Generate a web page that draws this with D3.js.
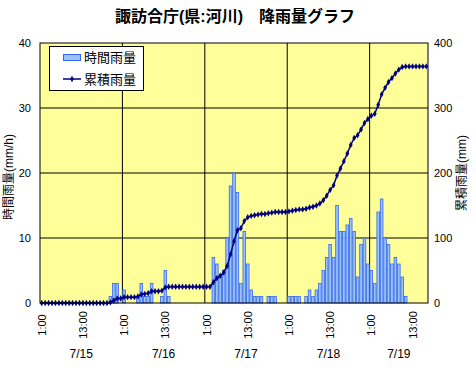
<!DOCTYPE html>
<html>
<head>
<meta charset="utf-8">
<script src="https://cdn.jsdelivr.net/npm/d3@7"></script>
<style>
  body { margin: 0; background: #fff; }
  text { font-family: "Liberation Sans", "Noto Sans CJK JP", sans-serif; fill: #000; }
</style>
</head>
<body>
<script>
// dates and how many hourly readings each day has (7/19 stops at 17:00)
var days = ['7/15', '7/16', '7/17', '7/18', '7/19'];
var dayHours = [24, 24, 24, 24, 17];
var hourTicks = ['1:00', '13:00'];
var leftTicks = [0, 10, 20, 30, 40];
var rightTicks = [0, 100, 200, 300, 400];

// hourly rainfall mm/h, from 7/15 1:00
var hourly = [
  0, 0, 0, 0, 0, 0, 0, 0, 0, 0, 0, 0, 0, 0, 0, 0, 0, 0, 0, 0,
  1, 3, 3, 0, 2, 0, 0, 0, 1, 3, 1, 1, 3, 0, 0, 1, 5, 1,
  0, 0, 0, 0, 0, 0, 0, 0, 0, 0, 0, 0,
  7, 6, 4, 5, 10, 18, 20, 17, 3, 11, 6, 2, 1, 1, 1, 0, 1, 1, 1, 0,
  0, 0, 1, 1, 1, 1, 0, 1, 2, 1, 2, 3, 5, 7, 9, 7, 15, 11, 11, 12,
  13, 11, 4, 9, 10, 6, 5, 3, 14, 16, 10, 9, 6, 7, 6, 4, 1,
  0, 0, 0, 0, 0, 0
];

buildPlot();

function buildPlot() {
  var cumulative = Array.from(d3.cumsum(hourly));

  var w = 476, h = 369;
  var pL = 40, pR = 428, pT = 43, pB = 303;

  // one category per hour
  var cats = [];
  days.forEach(function (d, di) {
    for (var k = 1; k <= dayHours[di]; k++) cats.push({ day: d, hour: k, idx: cats.length });
  });

  var svg = d3.select('body').append('svg').attr('width', w).attr('height', h);

  var xScale = d3.scaleBand().domain(cats.map(d => d.idx)).range([pL, pR]).padding(0);
  var yScale = d3.scaleLinear().domain([0, 40]).range([pB, pT]);
  var y2Scale = d3.scaleLinear().domain([0, 400]).range([pB, pT]);
  var bw = xScale.bandwidth();

  svg.append('text').attr('x', 235).attr('y', 22).attr('text-anchor', 'middle')
    .style('font-size', '16px').style('font-weight', 'bold')
    .text('諏訪合庁(県:河川)　降雨量グラフ');

  svg.append('rect').attr('x', pL).attr('y', pT).attr('width', pR - pL).attr('height', pB - pT)
    .attr('fill', '#ffff99');

  // gridlines
  svg.append('g').selectAll('line').data(leftTicks.slice(1, -1)).enter().append('line')
    .attr('x1', pL).attr('x2', pR).attr('y1', d => yScale(d)).attr('y2', d => yScale(d))
    .attr('stroke', '#000').attr('stroke-width', 1);
  svg.append('g').selectAll('line').data(cats.filter(d => d.hour === 1 && d.idx > 0)).enter().append('line')
    .attr('x1', d => xScale(d.idx)).attr('x2', d => xScale(d.idx)).attr('y1', pT).attr('y2', pB)
    .attr('stroke', '#000').attr('stroke-width', 1);

  // bars
  svg.append('g').selectAll('rect').data(cats.filter(d => hourly[d.idx] > 0)).enter().append('rect')
    .attr('x', d => xScale(d.idx) + 0.4)
    .attr('y', d => yScale(hourly[d.idx]))
    .attr('width', bw - 0.8)
    .attr('height', d => pB - yScale(hourly[d.idx]))
    .attr('fill', '#99c2ff').attr('stroke', '#3366ee').attr('stroke-width', 0.8);

  // cumulative line
  var line = d3.line().x(d => xScale(d.idx) + bw / 2).y(d => y2Scale(cumulative[d.idx]));
  svg.append('path').datum(cats).attr('d', line).attr('fill', 'none')
    .attr('stroke', '#000080').attr('stroke-width', 1.5);
  var diamond = d3.symbol().type(d3.symbolDiamond).size(12);
  svg.append('g').selectAll('path').data(cats).enter().append('path')
    .attr('d', diamond)
    .attr('transform', d => 'translate(' + (xScale(d.idx) + bw / 2) + ',' + y2Scale(cumulative[d.idx]) + ')')
    .attr('fill', '#000080');

  svg.append('rect').attr('x', pL).attr('y', pT).attr('width', pR - pL).attr('height', pB - pT)
    .attr('fill', 'none').attr('stroke', '#000').attr('stroke-width', 1);

  // axis labels
  svg.append('g').selectAll('text').data(leftTicks).enter().append('text')
    .attr('x', 31).attr('y', d => yScale(d) + 4).attr('text-anchor', 'end')
    .style('font-size', '11px').text(d => d);
  svg.append('g').selectAll('text').data(rightTicks).enter().append('text')
    .attr('x', 434).attr('y', d => y2Scale(d) + 4).attr('text-anchor', 'start')
    .style('font-size', '11px').text(d => d);

  svg.append('text').attr('transform', 'translate(13,' + ((pT + pB) / 2 + 4) + ') rotate(-90)')
    .attr('text-anchor', 'middle').style('font-size', '12px').text('時間雨量(mm/h)');
  svg.append('text').attr('transform', 'translate(466,' + ((pT + pB) / 2) + ') rotate(-90)')
    .attr('text-anchor', 'middle').style('font-size', '12px').text('累積雨量(mm)');

  svg.append('g').selectAll('text').data(cats.filter(d => (d.hour - 1) % 12 === 0)).enter().append('text')
    .attr('transform', d => 'translate(' + (xScale(d.idx) + bw / 2 + 4) + ',325) rotate(-90)')
    .attr('text-anchor', 'middle').style('font-size', '11px')
    .text(d => hourTicks[(d.hour - 1) / 12]);

  var start = 0;
  var dayPos = days.map(function (d, di) {
    var c = xScale(start) + dayHours[di] * bw / 2;
    start += dayHours[di];
    return { day: d, x: c };
  });
  svg.append('g').selectAll('text').data(dayPos).enter().append('text')
    .attr('x', d => d.x).attr('y', 358).attr('text-anchor', 'middle')
    .style('font-size', '12px').text(d => d.day);

  // legend
  var lg = svg.append('g');
  lg.append('rect').attr('x', 49.5).attr('y', 46.5).attr('width', 94).attr('height', 44)
    .attr('fill', '#fff').attr('stroke', '#000');
  lg.append('rect').attr('x', 63.5).attr('y', 54.5).attr('width', 17).attr('height', 6)
    .attr('fill', '#99c2ff').attr('stroke', '#3366ee');
  lg.append('text').attr('x', 84).attr('y', 62).style('font-size', '13px').text('時間雨量');
  lg.append('line').attr('x1', 63).attr('x2', 81).attr('y1', 79).attr('y2', 79)
    .attr('stroke', '#000080').attr('stroke-width', 1.5);
  lg.append('path').attr('d', diamond).attr('transform', 'translate(72,79)').attr('fill', '#000080');
  lg.append('text').attr('x', 84).attr('y', 84).style('font-size', '13px').text('累積雨量');
}
</script>
</body>
</html>
